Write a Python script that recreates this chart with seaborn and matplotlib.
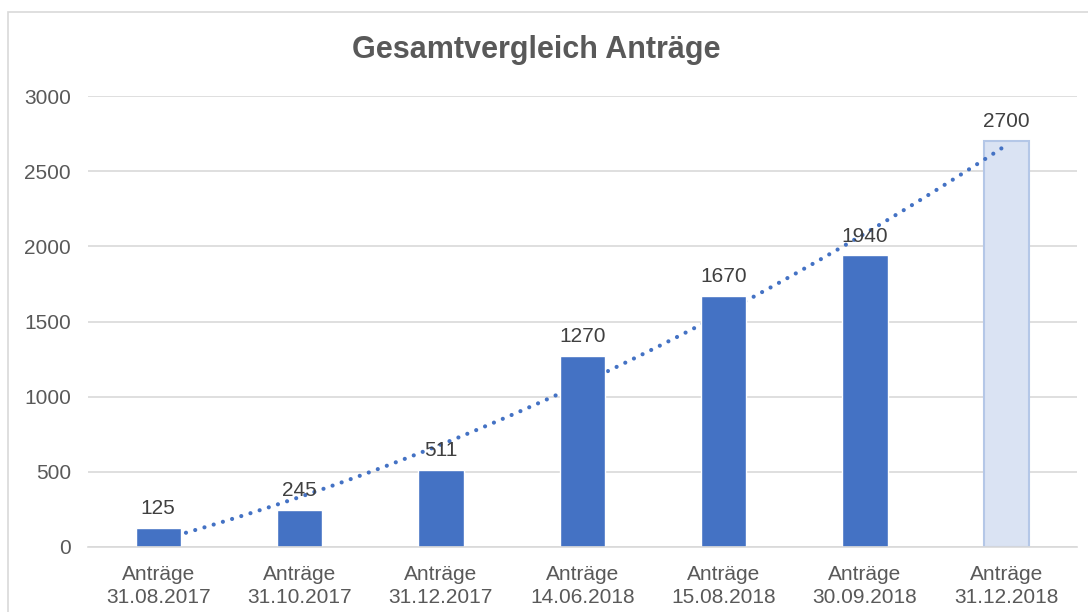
import numpy as np
import pandas as pd
import matplotlib
matplotlib.use("Agg")
import matplotlib.pyplot as plt
from matplotlib.patches import Rectangle
import seaborn as sns

categories = ["Anträge\n31.08.2017", "Anträge\n31.10.2017", "Anträge\n31.12.2017",
              "Anträge\n14.06.2018", "Anträge\n15.08.2018", "Anträge\n30.09.2018",
              "Anträge\n31.12.2018"]
values = [125, 245, 511, 1270, 1670, 1940, 2700]
yticks = [0, 500, 1000, 1500, 2000, 2500, 3000]
title = "Gesamtvergleich Anträge"

BLUE = "#4472C4"
LIGHT = "#DAE3F3"
LIGHT_EDGE = "#B4C7E7"
TEXT = "#595959"
GRID = "#D9D9D9"

sns.set_theme(style="white")
plt.rcParams["font.family"] = ["Liberation Sans", "DejaVu Sans"]

df = pd.DataFrame({"cat": categories, "val": values})
palette = [BLUE] * (len(values) - 1) + [LIGHT]

fig = plt.figure(figsize=(10.88, 6.12), dpi=100)
ax = fig.add_axes([87.5 / 1088, 1 - 547 / 612, (1077 - 87.5) / 1088, (547 - 96) / 612])

# trendline (polynomial order 2), drawn behind the solid bars
x = np.arange(len(values))
coef = np.polyfit(x, values, 2)
xs = np.linspace(0, len(values) - 1, 300)
ax.plot(xs, np.polyval(coef, xs), color=BLUE, lw=3.0, linestyle=(0, (0.01, 2.3)),
        dash_capstyle="round", zorder=1)

sns.barplot(data=df, x="cat", y="val", hue="cat", palette=palette, legend=False,
            width=0.32, ax=ax, zorder=2, saturation=1)
bars = ax.patches
for p in bars:
    p.set_zorder(2)
bars[-1].set_edgecolor(LIGHT_EDGE)
bars[-1].set_linewidth(1.5)
bars[-1].set_zorder(0.8)

for i, v in enumerate(values):
    ax.annotate(f"{v}", (i, v), xytext=(0, 7), textcoords="offset points",
                ha="center", va="bottom", fontsize=15, color="#404040", zorder=5)

ax.set_ylim(0, 3000)
ax.set_xlim(-0.5, len(values) - 0.5)
ax.set_yticks(yticks)
ax.set_yticklabels([str(t) for t in yticks])
ax.yaxis.grid(True, color=GRID, lw=1.2)
ax.set_axisbelow(True)
for s in ["top", "right", "left"]:
    ax.spines[s].set_visible(False)
ax.spines["bottom"].set_color(GRID)
ax.spines["bottom"].set_linewidth(1.2)
ax.tick_params(axis="both", length=0, labelsize=15, colors=TEXT)
ax.tick_params(axis="y", pad=12)
ax.tick_params(axis="x", pad=13)
for lbl in ax.get_xticklabels():
    lbl.set_linespacing(1.25)
ax.set_xlabel("")
ax.set_ylabel("")

fig.text(536 / 1088, 1 - 50 / 612, title, ha="center", va="center",
         fontsize=22, fontweight="bold", color=TEXT)

# chart area frame
fig.patches.append(Rectangle((8 / 1088, -0.1), 1.2, 1 - 12 / 612 + 0.1,
                             transform=fig.transFigure, fill=False,
                             edgecolor=GRID, lw=1.2, zorder=0))

fig.savefig("out.png", dpi=100)
